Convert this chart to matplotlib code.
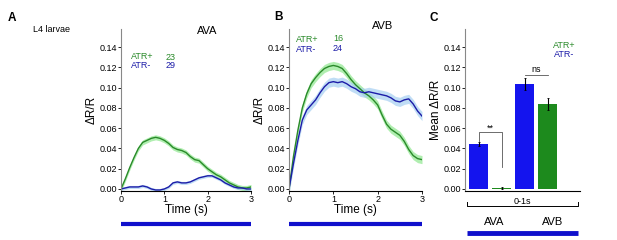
import numpy as np
import matplotlib
matplotlib.use("Agg")
import matplotlib.pyplot as plt

plt.rcParams['font.family'] = ['Liberation Sans', 'DejaVu Sans']

# time axis (s)
t = np.arange(31) * 0.1

# panel A, AVA
ava_atrp = [0.000, 0.010, 0.021, 0.031, 0.040, 0.046, 0.048, 0.050, 0.051, 0.050,
            0.048, 0.045, 0.041, 0.039, 0.038, 0.036, 0.032, 0.029, 0.028, 0.024,
            0.020, 0.017, 0.014, 0.012, 0.009, 0.006, 0.004, 0.002, 0.001, 0.001, 0.002]
ava_atrm = [0.000, 0.001, 0.002, 0.002, 0.002, 0.003, 0.002, 0.000, -0.001, -0.001,
            0.000, 0.002, 0.006, 0.007, 0.006, 0.006, 0.007, 0.009, 0.011, 0.012,
            0.013, 0.013, 0.011, 0.009, 0.006, 0.004, 0.002, 0.001, 0.001, 0.000, 0.000]
ava_sem = [0.0025, 0.0015]
ava_n = [23, 29]

# panel B, AVB
avb_atrp = [0.000, 0.032, 0.058, 0.080, 0.094, 0.104, 0.110, 0.115, 0.119, 0.121,
            0.122, 0.121, 0.119, 0.114, 0.108, 0.103, 0.099, 0.095, 0.092, 0.088,
            0.083, 0.073, 0.064, 0.059, 0.056, 0.053, 0.047, 0.039, 0.033, 0.030, 0.029]
avb_atrm = [0.000, 0.025, 0.048, 0.068, 0.078, 0.083, 0.088, 0.095, 0.101, 0.105,
            0.106, 0.105, 0.106, 0.104, 0.101, 0.099, 0.096, 0.095, 0.096, 0.095,
            0.094, 0.093, 0.092, 0.090, 0.087, 0.086, 0.088, 0.089, 0.084, 0.077, 0.072]
avb_sem = [0.004, 0.0045]
avb_n = [16, 24]

# panel C, mean 0-1s
bar_labels = ['AVA', 'AVB']
bar_vals = [0.044, 0.001, 0.104, 0.084]   # AVA ATR-, AVA ATR+, AVB ATR-, AVB ATR+
bar_err = [0.002, 0.001, 0.006, 0.006]

light_on = [0, 3]

GREEN = '#2a8a2a'
GFILL = '#8fe88f'
BLUE = '#1c1ca8'
BFILL = '#a6cff2'
BARB = '#1414ee'
BARG = '#1d8a1d'
STIM = '#1010cc'

fig = plt.figure(figsize=(6.17, 2.40), dpi=100)

bot = 1 - 191 / 240
hgt = 162 / 240
yticks = np.arange(0, 0.141, 0.02)


def style(ax):
    ax.spines['top'].set_visible(False)
    ax.spines['right'].set_visible(False)
    ax.spines['left'].set_color('#888888')
    ax.spines['left'].set_linewidth(0.8)
    ax.spines['bottom'].set_linewidth(0.8)
    ax.set_ylim(-0.002, 0.158)
    ax.set_yticks(yticks)
    ax.set_yticklabels(['%.2f' % v for v in yticks])
    ax.tick_params(axis='both', labelsize=6.5, length=2, width=0.6, pad=1)


def trace(ax, y1, y2, sem, n, title):
    y1 = np.array(y1)
    y2 = np.array(y2)
    ax.fill_between(t, y1 - sem[0], y1 + sem[0], color=GFILL, alpha=0.7, lw=0)
    ax.fill_between(t, y2 - sem[1], y2 + sem[1], color=BFILL, alpha=0.7, lw=0)
    ax.plot(t, y1, color=GREEN, lw=1.0)
    ax.plot(t, y2, color=BLUE, lw=1.0)
    style(ax)
    ax.set_xlim(0, 3)
    ax.set_xticks([0, 1, 2, 3])
    ax.set_xlabel('Time (s)', fontsize=8.5, labelpad=0)
    ax.set_ylabel('ΔR/R', fontsize=8.5, labelpad=1)
    ax.plot(light_on, [-0.205, -0.205], color=STIM, lw=3, solid_capstyle='butt',
            transform=ax.get_xaxis_transform(), clip_on=False)


axA = fig.add_axes([121 / 617, bot, 130 / 617, hgt])
trace(axA, ava_atrp, ava_atrm, ava_sem, ava_n, 'AVA')
axA.text(0.22, 0.131, 'ATR+', color=GREEN, fontsize=6.5, va='center')
axA.text(0.22, 0.122, 'ATR-', color=BLUE, fontsize=6.5, va='center')
axA.text(1.03, 0.130, str(ava_n[0]), color=GREEN, fontsize=6.5, va='center')
axA.text(1.03, 0.122, str(ava_n[1]), color=BLUE, fontsize=6.5, va='center')

axB = fig.add_axes([289 / 617, bot, 133 / 617, hgt])
trace(axB, avb_atrp, avb_atrm, avb_sem, avb_n, 'AVB')
axB.text(0.16, 0.148, 'ATR+', color=GREEN, fontsize=6.5, va='center')
axB.text(0.16, 0.138, 'ATR-', color=BLUE, fontsize=6.5, va='center')
axB.text(0.99, 0.149, str(avb_n[0]), color=GREEN, fontsize=6.5, va='center')
axB.text(0.99, 0.139, str(avb_n[1]), color=BLUE, fontsize=6.5, va='center')

axC = fig.add_axes([465 / 617, bot, 115 / 617, hgt])
xpos = np.arange(len(bar_vals))
axC.bar(xpos, bar_vals, width=0.83, color=[BARB, BARG, BARB, BARG],
        yerr=bar_err, error_kw=dict(ecolor='black', elinewidth=0.8, capsize=1, capthick=0.6))
style(axC)
axC.set_xlim(-0.59, 4.41)
axC.set_xticks([])
axC.set_ylabel('Mean ΔR/R', fontsize=8.5, labelpad=1)
axC.text(0.96, 0.9, 'ATR+', color=GREEN, fontsize=6.5, ha='right', va='center', transform=axC.transAxes)
axC.text(0.95, 0.84, 'ATR-', color=BLUE, fontsize=6.5, ha='right', va='center', transform=axC.transAxes)
# significance
axC.plot([0, 0, 1, 1], [0.047, 0.056, 0.056, 0.022], color='#555555', lw=0.6)
axC.text(0.5, 0.056, '**', ha='center', va='bottom', fontsize=6.5)
axC.plot([2, 3], [0.113, 0.113], color='#555555', lw=0.6)
axC.text(2.5, 0.114, 'ns', ha='center', va='bottom', fontsize=6.5)
# 0-1s bracket and labels
tr = axC.transAxes
axC.plot([0.017, 0.017, 0.983, 0.983], [-0.068, -0.093, -0.093, -0.068], color='black',
         lw=0.7, transform=tr, clip_on=False)
axC.text(0.5, -0.093, '0-1s', ha='center', va='bottom', fontsize=6.5, transform=tr)
axC.text(0.5 * (xpos[0] + xpos[1]) + 0.2, -0.19, bar_labels[0], ha='center', va='center',
         fontsize=8, transform=axC.get_xaxis_transform())
axC.text(0.5 * (xpos[2] + xpos[3]) + 0.7, -0.19, bar_labels[1], ha='center', va='center',
         fontsize=8, transform=axC.get_xaxis_transform())
axC.plot([0.017, 0.983], [-0.26, -0.26], color=STIM, lw=3.5, solid_capstyle='butt',
         transform=tr, clip_on=False)

# panel letters and titles
fig.text(8 / 617, 1 - 18 / 240, 'A', fontsize=8.5, fontweight='bold', va='center')
fig.text(33 / 617, 1 - 29 / 240, 'L4 larvae', fontsize=6.5, va='center')
fig.text(207 / 617, 1 - 31 / 240, 'AVA', fontsize=8, ha='center', va='center')
fig.text(274 / 617, 1 - 17 / 240, 'B', fontsize=8.5, fontweight='bold', va='center')
fig.text(383 / 617, 1 - 26 / 240, 'AVB', fontsize=8, ha='center', va='center')
fig.text(430 / 617, 1 - 18 / 240, 'C', fontsize=8.5, fontweight='bold', va='center')

fig.savefig('out.png', dpi=100)
